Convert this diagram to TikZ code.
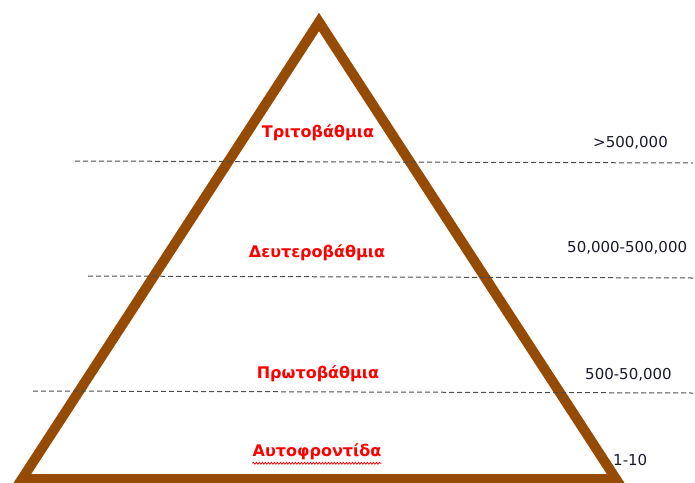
\documentclass[tikz,border=0pt]{standalone}
\usepackage{fontspec}
\setmainfont{DejaVu Sans}
\usetikzlibrary{decorations.pathmorphing}
\definecolor{pyrbrown}{RGB}{150,75,5}
\definecolor{levelred}{RGB}{255,0,0}
\definecolor{numdark}{RGB}{25,25,45}
\tikzset{
  pyr/.style={draw=pyrbrown, line width=10pt, line join=miter},
  sep/.style={draw=black!70, line width=1pt, dash pattern=on 5pt off 3pt},
  lvl/.style={text=levelred, font=\fontsize{16}{19}\selectfont\bfseries, inner sep=0pt},
  num/.style={text=numdark, font=\fontsize{15}{18}\selectfont, inner sep=0pt, anchor=west},
  wavy/.style={draw=levelred, line width=0.7pt, decorate, decoration={snake, amplitude=1pt, segment length=3pt}}
}
\begin{document}
\begin{tikzpicture}[x=1pt,y=-1pt]
\useasboundingbox (0,0) rectangle (695,482);
% triangle
\coordinate (apex) at (319,22);
\coordinate (bl) at (22,479);
\coordinate (br) at (616,479);
\draw[pyr] (apex) -- (bl) -- (br) -- cycle;
% dashed separators
\coordinate (s1a) at (75,161);
\coordinate (s1b) at (693,163);
\coordinate (s2a) at (88,276);
\coordinate (s2b) at (693,278);
\coordinate (s3a) at (33,391);
\coordinate (s3b) at (693,393);
\draw[sep] (s1a) -- (s1b);
\draw[sep] (s2a) -- (s2b);
\draw[sep] (s3a) -- (s3b);
% level labels
\node[lvl] (t3) at (318,133) {Τριτοβάθμια};
\node[lvl] (t2) at (317,253) {Δευτεροβάθμια};
\node[lvl] (t1) at (318,374) {Πρωτοβάθμια};
\node[lvl] (t0) at (317,452) {Αυτοφροντίδα};
\draw[wavy] ([yshift=-3pt]t0.south west) -- ([yshift=-3pt]t0.south east);
% numbers
\node[num] (n3) at (593,143) {>500,000};
\node[num] (n2) at (567,248) {50,000-500,000};
\node[num] (n1) at (585,375) {500-50,000};
\node[num] (n0) at (613,460) {1-10};
\end{tikzpicture}
\end{document}
